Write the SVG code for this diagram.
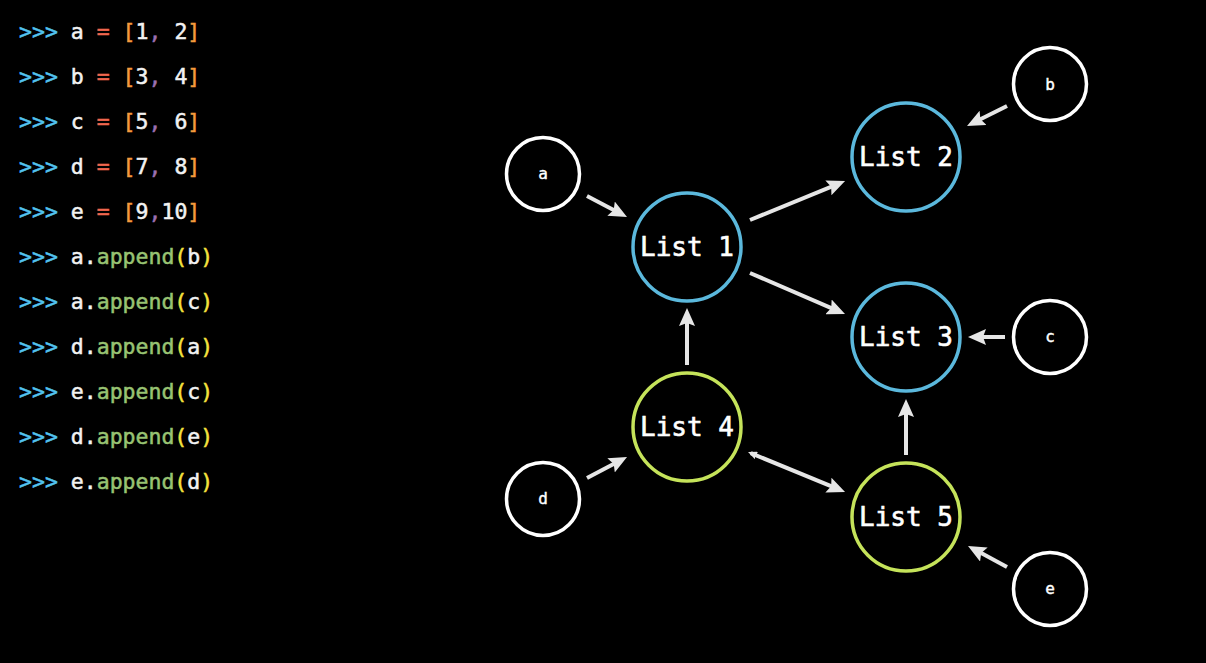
<svg xmlns="http://www.w3.org/2000/svg" width="1206" height="663" viewBox="0 0 1206 663">
<style>
.code{font-family:"DejaVu Sans Mono","Liberation Mono",monospace;font-size:21.5px;fill:#f2f2f2;stroke:#f2f2f2;stroke-width:0.5}
.p{fill:#52c3ef;stroke:#52c3ef}.eq{fill:#f0674f;stroke:#f0674f}.br{fill:#f49a3c;stroke:#f49a3c}.cm{fill:#9c6fb0;stroke:#9c6fb0}.fn{fill:#98c372;stroke:#98c372}.pa{fill:#f4e23e;stroke:#f4e23e}
.big{fill:#000;stroke-width:3.5}
.blue{stroke:#5bb8dc}.green{stroke:#c5e35a}
.small{fill:#000;stroke:#fff;stroke-width:3.5}
.lbl{font-family:"DejaVu Sans Mono","Liberation Mono",monospace;font-size:26px;fill:#fff;stroke:#fff;stroke-width:0.6;text-anchor:middle}
.slbl{font-family:"DejaVu Sans Mono","Liberation Mono",monospace;font-size:16px;fill:#fff;stroke:#fff;stroke-width:0.4;text-anchor:middle}
.ar{stroke:#e6e6e6;stroke-width:4;fill:none;marker-end:url(#head)}
</style>
<defs>
<marker id="head" viewBox="0 0 18 16" refX="12" refY="8" markerWidth="18" markerHeight="16" markerUnits="userSpaceOnUse" orient="auto">
<path d="M0,0 L18,8 L0,16 L3,8 z" fill="#e6e6e6"/>
</marker>
<marker id="tail" viewBox="0 0 9 8" refX="6" refY="4" markerWidth="9" markerHeight="8" markerUnits="userSpaceOnUse" orient="auto-start-reverse">
<path d="M0,0 L9,4 L0,8 z" fill="#e6e6e6"/>
</marker>
</defs>
<rect width="1206" height="663" fill="#000"/>
<g id="code" class="code" xml:space="preserve">
<text x="19" y="39"><tspan class="p">&gt;&gt;&gt;</tspan> a <tspan class="eq">=</tspan> <tspan class="br">[</tspan>1<tspan class="cm">,</tspan> 2<tspan class="br">]</tspan></text>
<text x="19" y="84"><tspan class="p">&gt;&gt;&gt;</tspan> b <tspan class="eq">=</tspan> <tspan class="br">[</tspan>3<tspan class="cm">,</tspan> 4<tspan class="br">]</tspan></text>
<text x="19" y="129"><tspan class="p">&gt;&gt;&gt;</tspan> c <tspan class="eq">=</tspan> <tspan class="br">[</tspan>5<tspan class="cm">,</tspan> 6<tspan class="br">]</tspan></text>
<text x="19" y="174"><tspan class="p">&gt;&gt;&gt;</tspan> d <tspan class="eq">=</tspan> <tspan class="br">[</tspan>7<tspan class="cm">,</tspan> 8<tspan class="br">]</tspan></text>
<text x="19" y="219"><tspan class="p">&gt;&gt;&gt;</tspan> e <tspan class="eq">=</tspan> <tspan class="br">[</tspan>9<tspan class="cm">,</tspan>10<tspan class="br">]</tspan></text>
<text x="19" y="264"><tspan class="p">&gt;&gt;&gt;</tspan> a.<tspan class="fn">append</tspan><tspan class="pa">(</tspan>b<tspan class="pa">)</tspan></text>
<text x="19" y="309"><tspan class="p">&gt;&gt;&gt;</tspan> a.<tspan class="fn">append</tspan><tspan class="pa">(</tspan>c<tspan class="pa">)</tspan></text>
<text x="19" y="354"><tspan class="p">&gt;&gt;&gt;</tspan> d.<tspan class="fn">append</tspan><tspan class="pa">(</tspan>a<tspan class="pa">)</tspan></text>
<text x="19" y="399"><tspan class="p">&gt;&gt;&gt;</tspan> e.<tspan class="fn">append</tspan><tspan class="pa">(</tspan>c<tspan class="pa">)</tspan></text>
<text x="19" y="444"><tspan class="p">&gt;&gt;&gt;</tspan> d.<tspan class="fn">append</tspan><tspan class="pa">(</tspan>e<tspan class="pa">)</tspan></text>
<text x="19" y="489"><tspan class="p">&gt;&gt;&gt;</tspan> e.<tspan class="fn">append</tspan><tspan class="pa">(</tspan>d<tspan class="pa">)</tspan></text>
</g>
<g id="connectors">
<line class="ar" x1="587" y1="196" x2="621.7" y2="214.2"/>
<line class="ar" x1="750" y1="220" x2="839.5" y2="183.3"/>
<line class="ar" x1="750" y1="273" x2="839.5" y2="311.6"/>
<line class="ar" x1="687" y1="365" x2="687" y2="314"/>
<line class="ar" x1="1007" y1="106" x2="972.4" y2="123.3"/>
<line class="ar" x1="1005" y1="337" x2="974" y2="337"/>
<line class="ar" x1="906" y1="455" x2="906" y2="405"/>
<line class="ar" x1="587" y1="478" x2="621.7" y2="459.8"/>
<line class="ar" x1="750.8" y1="453.1" x2="839.5" y2="489.7" marker-start="url(#tail)"/>
<line class="ar" x1="1007" y1="567" x2="973.3" y2="548.8"/>
</g>
<g id="node-a"><circle class="small" cx="543" cy="174" r="36.5"/><text class="slbl" x="543" y="179">a</text></g>
<g id="node-b"><circle class="small" cx="1050" cy="84" r="36.5"/><text class="slbl" x="1050" y="90">b</text></g>
<g id="node-c"><circle class="small" cx="1050" cy="337" r="36.5"/><text class="slbl" x="1050" y="342">c</text></g>
<g id="node-d"><circle class="small" cx="543" cy="499" r="36.5"/><text class="slbl" x="543" y="504">d</text></g>
<g id="node-e"><circle class="small" cx="1050" cy="589" r="36.5"/><text class="slbl" x="1050" y="594">e</text></g>
<g id="list1"><circle class="big blue" cx="687" cy="247" r="54"/><text class="lbl" x="687" y="256">List 1</text></g>
<g id="list2"><circle class="big blue" cx="906" cy="157" r="54"/><text class="lbl" x="906" y="166">List 2</text></g>
<g id="list3"><circle class="big blue" cx="906" cy="337" r="54"/><text class="lbl" x="906" y="346">List 3</text></g>
<g id="list4"><circle class="big green" cx="687" cy="427" r="54"/><text class="lbl" x="687" y="436">List 4</text></g>
<g id="list5"><circle class="big green" cx="906" cy="517" r="54"/><text class="lbl" x="906" y="526">List 5</text></g>
</svg>
